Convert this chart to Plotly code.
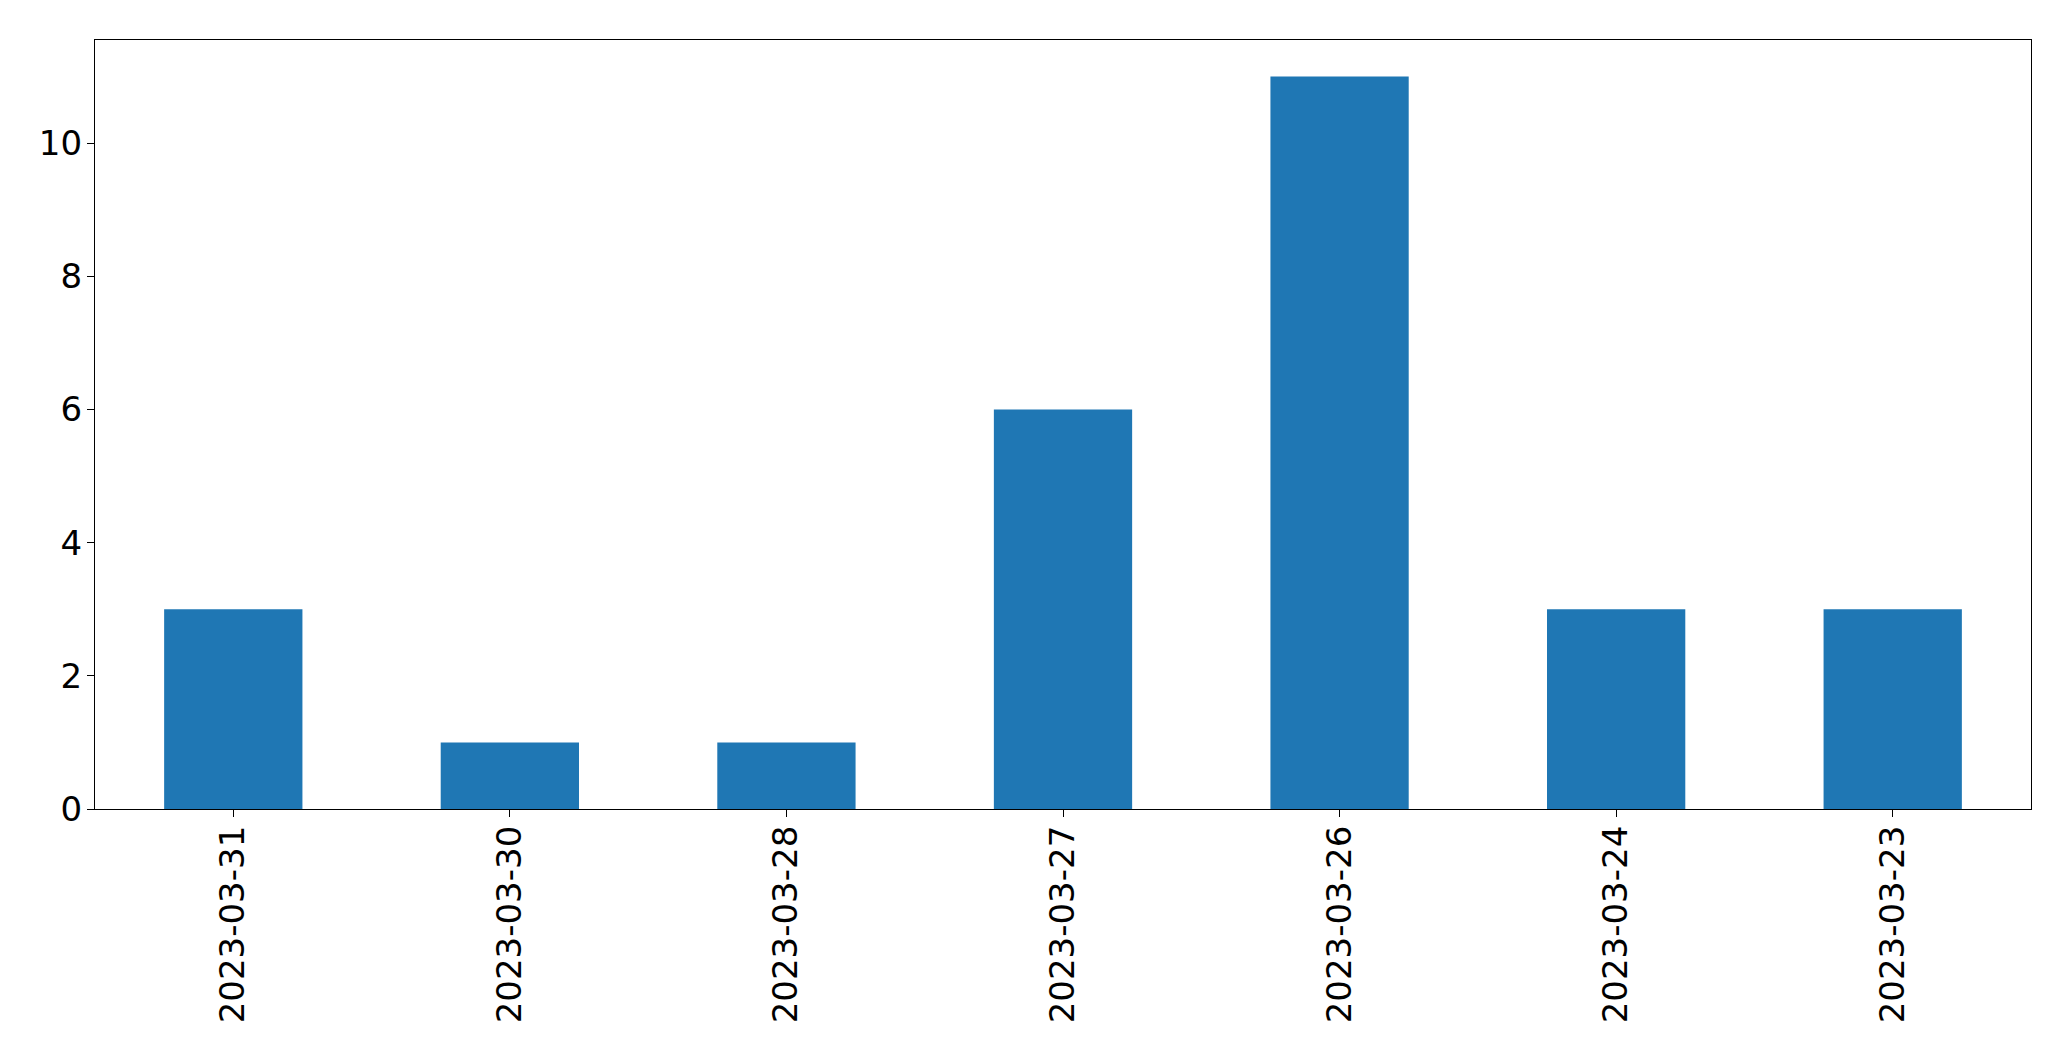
import plotly.graph_objects as go

dates = ["2023-03-31", "2023-03-30", "2023-03-28", "2023-03-27", "2023-03-26", "2023-03-24", "2023-03-23"]
counts = [3, 1, 1, 6, 11, 3, 3]
y_ticks = [0, 2, 4, 6, 8, 10]

fig = go.Figure(go.Bar(x=dates, y=counts, width=0.5, marker=dict(color="#1f77b4", line=dict(width=0))))

fig.update_layout(
    width=2071, height=1061,
    margin=dict(l=87, r=48, t=32, b=260),
    plot_bgcolor="white", paper_bgcolor="white",
    font=dict(family="DejaVu Sans", size=34, color="black"),
    showlegend=False,
)
fig.update_xaxes(
    type="category", range=[-0.5, 6.5],
    showline=True, linecolor="black", linewidth=1.3, mirror=True,
    ticks="outside", ticklen=7, tickwidth=1.3, tickcolor="black",
    tickangle=-90, showgrid=False, zeroline=False,
    ticklabelstandoff=-5,
)
fig.update_yaxes(
    range=[0, 11.55], tickvals=y_ticks,
    showline=True, linecolor="black", linewidth=1.3, mirror=True,
    ticks="outside", ticklen=7, tickwidth=1.3, tickcolor="black",
    showgrid=False, zeroline=False,
    ticklabelstandoff=-2,
)

fig.write_html("out.html")
